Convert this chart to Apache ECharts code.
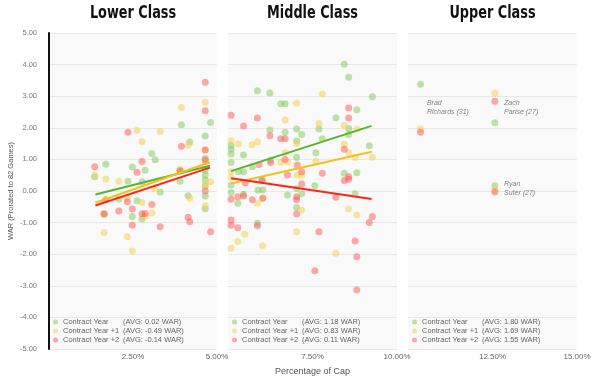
<!DOCTYPE html>
<html><head><meta charset="utf-8">
<script src="https://cdn.jsdelivr.net/npm/echarts@6/dist/echarts.min.js"></script>
<style>html,body{margin:0;padding:0;background:#fff}#c{width:600px;height:384px}</style>
</head><body><div id="c"></div>
<script>
// ---------- DATA ----------
const panelTitles = ['Lower Class', 'Middle Class', 'Upper Class'];
const seriesNames = ['Contract Year', 'Contract Year +1', 'Contract Year +2'];
const xRanges = [[0, 5], [5, 10], [10, 15]];
const yTicks = [-5, 5, 1];
const avgValues = [['0.02', '-0.49', '-0.14'], ['1.18', '0.83', '0.11'], ['1.80', '1.69', '1.55']];

const lowerCY = [[4.81,2.17],[3.94,2.10],[4.65,1.74],[4.19,1.55],[4.65,1.03],[3.06,1.19],[3.16,0.99],[2.48,0.76],[2.86,0.66],[1.69,0.85],[1.36,0.45],[2.35,0.31],[2.77,0.29],[3.90,0.31],[4.65,0.66],[4.65,0.51],[4.65,0.35],[4.65,0.16],[4.65,-0.16],[4.65,-0.56],[2.08,-0.25],[2.62,-0.31],[3.31,-0.03],[4.14,-0.15],[2.48,-0.81],[2.77,-0.89],[1.64,-0.73],[3.90,0.66]];
const lowerCY1 = [[4.65,2.81],[3.94,2.64],[2.62,1.92],[3.31,1.88],[2.77,1.56],[4.14,1.45],[4.65,1.30],[4.65,0.93],[3.90,0.69],[1.36,0.50],[1.69,0.38],[2.08,0.31],[4.81,0.29],[3.14,0.07],[2.33,-0.23],[2.77,-0.36],[4.19,-0.23],[4.65,-0.47],[2.86,-0.80],[3.06,-0.70],[1.64,-1.31],[2.33,-1.45],[2.48,-1.90],[1.64,-0.74],[4.65,0.20]];
const lowerCY2 = [[4.65,3.44],[4.65,2.54],[2.35,1.86],[3.94,1.42],[4.65,1.30],[2.77,0.93],[2.62,0.59],[1.36,0.77],[3.90,0.63],[4.65,0.00],[1.69,-0.28],[2.33,-0.34],[3.06,-0.43],[2.08,-0.63],[2.48,-0.57],[2.77,-0.72],[2.86,-0.71],[1.64,-0.72],[2.48,-1.08],[3.31,-1.13],[4.14,-0.83],[4.19,-0.97],[4.81,-1.29],[4.65,0.98]];

const middleCY = [[8.44,4.01],[8.57,3.60],[5.87,3.17],[6.24,3.10],[9.27,2.98],[6.56,2.76],[6.69,2.76],[8.81,2.57],[8.19,2.32],[7.69,1.96],[8.57,1.98],[6.24,1.93],[7.03,1.96],[7.18,1.79],[6.69,1.86],[7.03,1.58],[7.79,1.65],[8.57,1.79],[5.09,1.45],[5.09,1.32],[5.09,1.17],[5.46,1.14],[9.18,1.43],[7.60,1.21],[7.03,1.06],[6.26,0.98],[5.09,0.90],[5.72,0.77],[5.31,0.61],[5.46,0.61],[8.44,0.56],[8.81,0.58],[5.09,0.19],[5.09,-0.05],[5.29,-0.39],[5.46,-0.10],[5.89,0.03],[6.03,0.03],[6.01,0.35],[6.76,-0.13],[7.03,0.08],[7.18,-0.09],[7.57,0.17],[7.03,-0.52],[8.76,-0.09],[5.87,-1.02]];
const middleCY1 = [[7.79,3.07],[7.03,2.78],[6.69,2.25],[7.69,2.14],[8.44,2.07],[8.81,1.96],[7.03,1.50],[5.09,1.59],[5.31,1.49],[5.71,1.46],[5.87,1.56],[8.57,1.21],[8.44,1.48],[9.27,1.07],[8.76,1.06],[7.60,0.95],[6.69,1.21],[6.56,0.91],[6.76,0.91],[7.05,0.51],[7.18,0.51],[5.09,0.61],[5.09,0.43],[5.87,-0.39],[6.03,-0.23],[7.18,-0.60],[8.57,-0.57],[8.81,-0.76],[5.50,-1.37],[5.29,-1.60],[5.09,-1.81],[6.02,-1.73],[7.03,-1.29],[8.19,-1.97]];
const middleCY2 = [[8.57,2.63],[5.09,2.40],[5.87,2.31],[8.57,2.31],[5.46,2.06],[6.24,1.75],[6.56,1.65],[6.69,1.65],[8.44,1.32],[6.69,1.00],[6.26,0.90],[5.92,0.84],[7.05,0.82],[7.18,0.61],[6.76,0.51],[7.79,0.56],[8.57,0.45],[5.09,-0.26],[5.29,-0.18],[5.46,-0.16],[5.51,0.26],[5.72,-0.28],[6.03,-0.23],[7.18,0.22],[7.03,-0.18],[7.03,-0.28],[7.03,-0.73],[8.44,0.33],[8.57,0.37],[8.19,-0.20],[9.27,-0.81],[9.18,-1.00],[5.09,-0.92],[5.09,-1.08],[5.29,-1.16],[5.87,-1.10],[7.69,-1.29],[8.76,-1.58],[8.81,-2.08],[7.57,-2.52],[8.81,-3.13],[6.01,0.33]];

const upperCY = [[10.37,3.38],[12.57,2.16],[12.57,0.17]];
const upperCY1 = [[10.37,1.96],[12.57,3.10],[12.57,0.02]];
const upperCY2 = [[10.37,1.86],[12.57,2.84],[12.57,-0.03]];

// trend line endpoints
const lowerTrend = [[[1.38,-0.11],[4.79,0.80]], [[1.38,-0.37],[4.79,0.91]], [[1.38,-0.46],[4.79,0.74]]];
const middleTrend = [[[5.09,0.63],[9.25,2.06]], [[5.09,0.24],[9.25,1.24]], [[5.09,0.40],[9.25,-0.25]]];

const annotations = [[10.56,2.64,'Brad\nRichards (31)'],[12.84,2.64,'Zach\nParise (27)'],[12.84,0.08,'Ryan\nSuter (27)']];

// ---------- CHART ----------
const font = "'Helvetica Neue', 'Liberation Sans', Arial, sans-serif";
const pointColors = ['rgba(125,200,85,0.62)', 'rgba(245,208,85,0.68)', 'rgba(255,90,90,0.65)'];
const lineColors = ['#58b42c', '#f1c21b', '#ff2418'];
const gridPos = [{left:49,width:168},{left:228,width:169},{left:408,width:169}];
const panelData = [[lowerCY,lowerCY1,lowerCY2],[middleCY,middleCY1,middleCY2],[upperCY,upperCY1,upperCY2]];
const panelTrends = [lowerTrend, middleTrend, null];

const grids = gridPos.map(g => ({left:g.left, width:g.width, top:33, height:316, show:true, backgroundColor:'#f9f9f9', borderWidth:0}));
const xAxes = xRanges.map((r,i) => ({
  type:'value', gridIndex:i, min:r[0], max:r[1], interval:2.5,
  axisLine:{show:false}, axisTick:{show:false}, splitLine:{show:false},
  axisLabel:{showMinLabel:false, color:'#666', fontSize:8, fontFamily:font, margin:4, formatter:v=>v.toFixed(2)+'%'},
  name: i===1 ? 'Percentage of Cap' : '', nameLocation:'middle', nameGap:18,
  nameTextStyle:{color:'#555', fontSize:9, fontFamily:font}
}));
const yAxes = xRanges.map((r,i) => ({
  type:'value', gridIndex:i, min:yTicks[0], max:yTicks[1], interval:yTicks[2],
  axisLine:{show:i===0, onZero:false, lineStyle:{color:'#111', width:2}}, axisTick:{show:false},
  splitLine:{show:true, lineStyle:{color:'#e8e8e8', width:1}},
  axisLabel:{show:i===0, color:'#777', fontSize:7.5, fontFamily:font, margin:12, formatter:v=>v.toFixed(2)},
  name: i===0 ? 'WAR (Prorated to 82 Games)' : '', nameLocation:'middle', nameGap:34,
  nameTextStyle:{color:'#555', fontSize:7.5, fontFamily:font}
}));

const series = [];
panelData.forEach((sets,p) => {
  sets.forEach((d,k) => {
    series.push({type:'scatter', name:seriesNames[k], xAxisIndex:p, yAxisIndex:p, data:d,
      symbolSize:7, itemStyle:{color:pointColors[k]}, silent:true});
  });
});
panelTrends.forEach((tr,p) => {
  if (!tr) return;
  tr.forEach((d,k) => {
    series.push({type:'line', name:'trend'+p+k, xAxisIndex:p, yAxisIndex:p, data:d,
      symbol:'none', lineStyle:{color:lineColors[k], width:2}, silent:true, z:5});
  });
});
series.push({type:'scatter', name:'notes', xAxisIndex:2, yAxisIndex:2, data:annotations,
  symbolSize:0, silent:true,
  label:{show:true, position:'right', distance:0, align:'left', formatter:p=>p.data[2],
    fontStyle:'italic', fontSize:7, lineHeight:9, color:'#666', fontFamily:font}});

const legends = gridPos.map((g,p) => ({
  data:seriesNames, orient:'vertical', left:g.left+4, top:318, padding:0, icon:'circle',
  itemWidth:5, itemHeight:5, itemGap:1, selectedMode:false,
  textStyle:{fontSize:7.5, color:'#666', fontFamily:font, lineHeight:8,
    rich:{a:{width:60, fontSize:7.5, color:'#666', fontFamily:font}, b:{fontSize:7.5, color:'#666', fontFamily:font}}},
  formatter:name => '{a|'+name+'}{b|(AVG: '+avgValues[p][seriesNames.indexOf(name)]+' WAR)}'
}));

const titleCenters = gridPos.map(g => g.left + g.width/2);
const graphic = panelTitles.map((t,i) => ({type:'text', x:titleCenters[i], y:14, scaleX:0.84,
  style:{text:t, align:'center', verticalAlign:'middle', fontSize:17, fontWeight:'bold',
    fontFamily:"'Liberation Sans Narrow', 'DejaVu Sans Condensed', 'Roboto Condensed', sans-serif", fill:'#111'}}));

const chart = echarts.init(document.getElementById('c'), null, {renderer:'canvas'});
chart.setOption({animation:false, grid:grids, xAxis:xAxes, yAxis:yAxes, series, legend:legends, graphic});
</script></body></html>
